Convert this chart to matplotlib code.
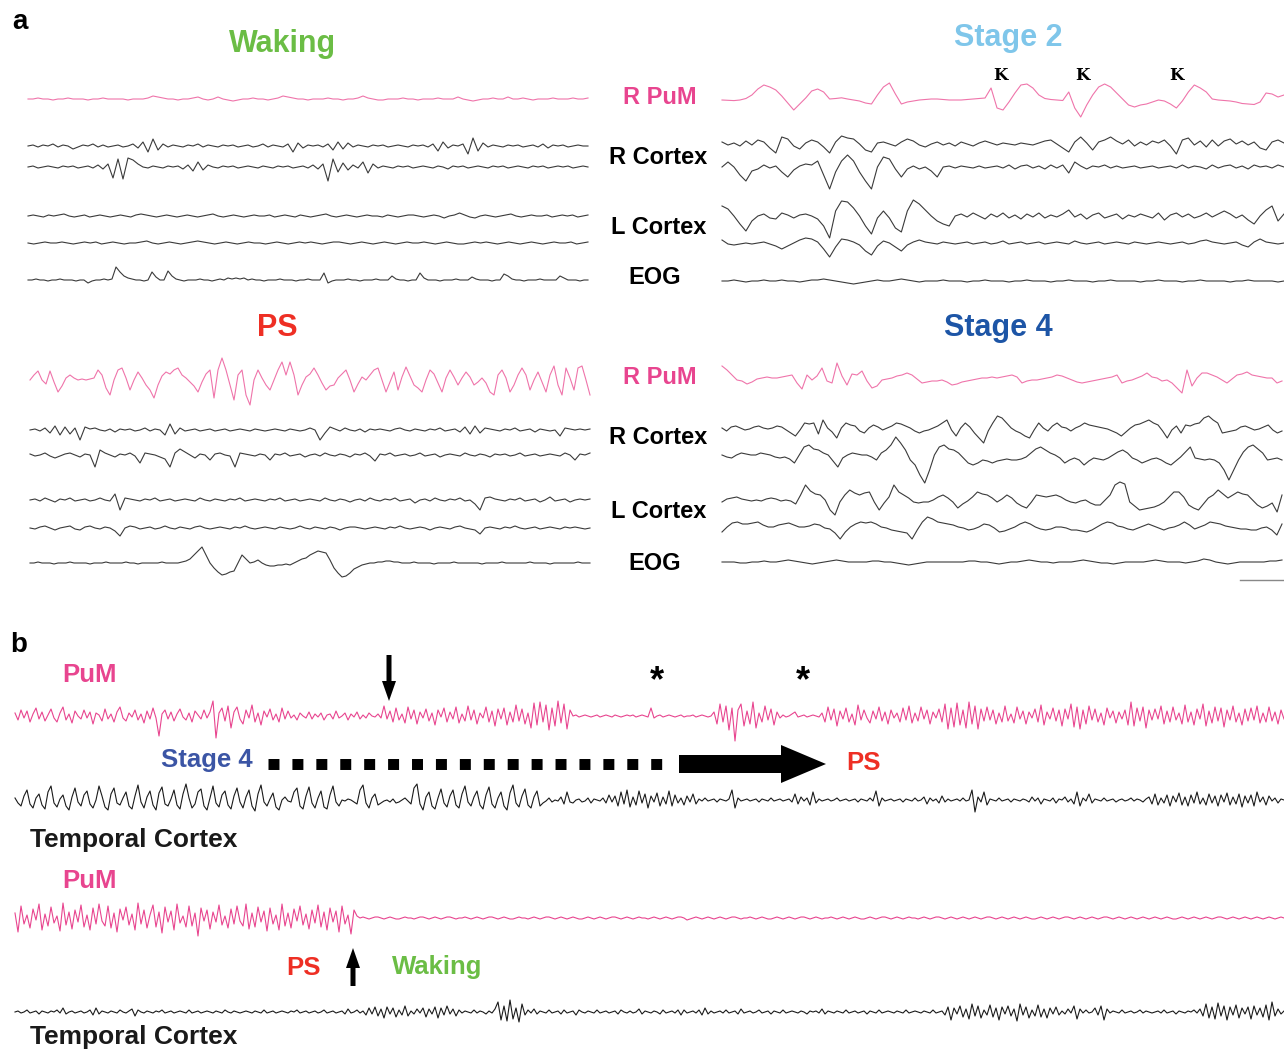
import matplotlib
matplotlib.use("Agg")
import matplotlib.pyplot as plt
import numpy as np
from matplotlib.patches import FancyArrow

plt.rcParams["font.family"] = ["Liberation Sans", "DejaVu Sans"]

PINK_A = "#ef74aa"
PINK_B = "#e8458f"
GREY = "#3a3a3a"
GREEN = "#6bbd45"
LIGHT_BLUE = "#7fc6ea"
DARK_BLUE = "#1d55a6"
RED = "#ee2f24"

# ---- panel a : Waking (values = deflection in px, up positive) ----
w_pum = [0, 0, 1, 0, 0, -1, 0, 0, 1, 0, 0, 0, -1, 0, 0, 1, 0, 0, 0, 0, -1, 0, 0, 0, 1,
         3, 2, 1, 0, 0, -1, 0, 0, 1, 2, 0, -1, 0, 2, 0, -1, -2, -1, 0,
         0, 1, 0, 0, -1, 0, 1, 3, 2, 1, 0, 0, -1, 0, 0, 0, 1, 0, 0, -1, 0, 0, 1,
         3, 1, 0, -1, -1, 0, 0, 0, 1, 0, 0, -1, 0, 0, 0, 1, 0, 0, 0,
         2, 0, -1, -2, -1, 0, 0, 1, 0, 0, 2, 0, 0, 1, 0, -1, 0, 0, 0, 1, 0, 0, 0, 1, 0, 0, 1]
w_rc1 = [0, 1, -1, 1, 0, 2, -1, 1, 0, -3, -1, 1, 0, 2, -1, 1, -1, 0, 1, -1,
         0, 2, -2, 4, -6, 7, -4, 2, -1, 1, 0, -1, 1, 0, 2, -1, 1, 0, -1, 1,
         0, 1, -1, 0, 1, -1, 0, 2, -1, 1, 0, -1, 2, -6, 3, -2, 1, 0, 1, -1,
         2, -4, 4, -3, 3, -1, 1, 0, -1, 1, 0, 1, -1, 0, 1, 0, -1, 1, 0, 1,
         -1, 2, -5, 4, -2, 1, 0, 2, -8, 8, -5, 3, -1, 1, 0, -1, 1, 0, 1, -1,
         0, 1, -1, 2, -2, 1, 0, 1, -1, 0, 1, 0, 0]
w_rc2 = [0, 1, -1, 0, 1, 0, -1, 1, 0, 1, -1, 0, 1, -1, 2, -2, 3, -11, 8, -12, 9, 7, 3, 0, -1, 1,
         0, -1, 1, 0, 1, -2, 2, -4, 5, -3, 2, 0, -1, 1, 0, 1, -1, 0, 1, 0, -1, 1, 0, -1,
         1, 0, 1, -1, 0, 1, -1, 2, -2, 3, -14, 8, -5, 4, -3, 2, -1, 5, -6, 3,
         -1, 1, 0, -1, 1, 0, 1, -1, 0, 1, 0, -1, 1, 0, -2, 1, 0, 1, -1, 0,
         1, 0, -1, 1, 0, 1, -1, 0, 1, 0, -1, 1, 0, 1, -1, 0, 1, 0, 1, -1, 0, 1, 0]
w_lc1 = [0, 1, 0, -1, 1, 0, 1, 2, 0, -1, 0, 1, -1, 0, 1, 0, -1, 0, 1, 0,
         -1, 1, 2, 1, 0, -1, 0, 1, 0, -1, 0, 1, 0, -1, 0, 1, 2, 0, -1, 0,
         1, 0, -1, 0, 1, 0, 0, 1, -1, 0, 1, 0, -1, 1, 0, -1, 0, 1, 2, 0,
         -1, 0, 1, 0, -1, 0, 1, 0, 0, -1, 1, 0, -1, 0, 1, 1, 0, -1, 0, 1,
         0, -2, 0, 1, 3, 1, -1, -2, 0, 1, 0, -1, 0, 1, 2, 0, -1, 0, 1, 0,
         0, 1, -1, 0, 1, 0, 1, -1, 0, 1]
w_lc2 = [0, -1, 0, 1, 0, 0, 1, 0, -1, 0, 1, 0, 1, -1, 0, 1, 0, -1, 0, 0,
         1, 2, 0, -1, 0, 1, 0, -1, 0, 1, 2, 1, 0, -1, 0, 1, 0, -1, 0, 1,
         0, 0, -1, 0, 1, 0, -1, 0, 1, 0, 1, 0, -1, 0, 1, 1, 0, -1, 0, 1,
         0, -1, 0, 1, 0, -1, 0, 1, 0, 0, 1, 0, -1, 0, 1, 0, -1, -1, 0, 1,
         0, 1, 0, -1, 0, 1, 0, -1, 0, 1, 0, -1, 0, 1, 0, 0, 1, -1, 0, 1]
w_eog = [0, 0, 1, 0, 0, -1, 0, 0, 1, 0, 0, 0, -1, 0, 0, -3, -1, 0, 0, 1, 0, 1,
         13, 8, 4, 2, 1, 0, 0, -1, 0, 8, 3, 0, 0, 9, 4, 1,
         0, -1, 0, 0, 0, 1, 0, 0, -1, 0, 1,
         0, 2, 1, 2, 1, 2, 0, 1, 0, 0, -1, 0, 0, 0, 1, 0, 0, 0, -1, 0, 0, 1, 0, 0, 0,
         7, -3, -1, 0, 0, 0, 1, 0, 0, -1, 0, 0, 0, 1, 0, 0, 0,
         4, 1, 0, 0, -1, 0, 0, 7, 2, 0, 0, 0, -1, 0, 0, 0, 1, 0, 0, 0,
         3, 1, 0, 0, 0, -1, 0, 0, 6, 4, 1, 0, 0, -1, 0, 0, 0, 1, 0, 0, 0, 0,
         4, 2, 0, 0, 0, -1, 0, 0]

# ---- panel a : Stage 2 ----
s2_pum = [0, -0.3, -0.6, 0, 1.5, 5, 11, 15, 13, 10, 4, -3, -10, -4, 2, 9, 11, 8, 1, 1.5,
          2.2, 1, 0, -1, -3, -4, 5, 13, 17, 6, -4, -2, -1, 0, 0.5, 1, 1, 0.5, 0, 0,
          0, 0.5, 1, 1.5, 2, 12, -8, -10, -2, 7, 15, 16, 12, 5, 1.5, 0.5, 0, -0.5, 8, -8,
          -17, -5, 5, 13, 16, 13, 7, 1, -5, -7, -5, -4, -2, 0, -1, -4, -8, -1, 8, 15,
          12, 8, 1, 0, -0.5, -1, -2, -3.5, -4, -4.5, -2, 7, 6, 3, 5]
s2_rc1 = [2, -1, 1, -2, 3, -1, 4, 2, -4, -9, 7, 5, -2, -5, 1, 4, 2, -3, -9, 2,
          8, 6, 5, 0, -6, -8, 1, 2, 0, -2, 2, 5, 3, -1, -3, 0, 2, -1, 1, -2,
          2, 0, -2, 1, 3, 1, -1, 1, 0, -1, 1, 0, -1, 1, 3, 4, 0, -4, -8, 2,
          7, 1, -6, 2, 4, 7, 3, 0, 4, -2, 2, -1, 3, 1, 4, -2, -10, 4, 6, -1,
          3, -3, 4, -2, 3, 5, 0, 3, -1, 2, -4, -6, 2, 4, 1]
s2_rc2 = [0, 5, 0, -8, -14, -4, -2, 2, -1, 1, -5, -10, -3, 1, 3, 2, 6, -8, -22, -5,
          6, 12, 6, -5, -14, -22, 0, 10, 8, -2, -10, -2, 1, -2, 0, -4, -10, 0, 1, -1,
          1, 0, -1, 1, -1, 0, 1, -1, 2, -2, 1, 2, -1, 1, -2, 2, -1, 2, -6, 5,
          1, -2, 1, 0, 2, -1, 1, -1, 0, 1, -1, 0, 1, -1, 0, 1, -1, 2, -1, 1,
          0, -2, 2, -1, 1, 2, -1, 1, -2, 2, 0, 1, -1, 2, 0]
s2_lc1 = [10, 7, 0, -8, -15, -5, 0, 2, -2, -3, 3, 1, -2, 1, 2, 0, -3, -10, -22, 5,
          15, 14, 8, 0, -10, -18, -2, 5, -2, -12, -16, 5, 16, 12, 6, 0, -5, -8, -10, 0,
          2, -1, 3, 0, -3, 2, -1, 3, -2, 1, -3, 2, -1, 3, -2, 1, -1, 2, 6, -1,
          2, -3, 1, 3, -2, 0, 2, -3, 1, -1, 2, 0, -2, 3, -4, 1, 3, -1, 2, -2,
          0, 3, -1, 2, 5, 2, -2, 1, -4, -8, 0, 6, 10, -5, 2]
s2_lc2 = [3, -1, -2, -1, 0, -1, 0, 1, -1, -3, -6, -3, 0, 3, 5, 4, 1, -6, -14, -4,
          4, 3, 1, -2, -8, -12, -3, 2, 0, -4, -8, -2, 1, 3, 1, 0, -1, 1, 0, -1,
          0, 1, -1, 0, 1, -1, 0, 2, -1, 0, 1, -1, 0, 1, -1, 0, 1, 0, -1, 2,
          0, -1, 0, 1, -1, 0, 1, 0, -1, 1, 0, -1, 0, 1, 0, -1, 0, 1, -1, 0,
          2, 3, 1, 0, -1, 0, 1, -2, -4, 1, 4, 1, 0, -1, 0]
s2_eog = [0, 0, 1, 0, -1, 0, 0, 1, 0, 0, 1, 0, 0, -1, 0, 1, 1, 2, 1, 0,
          -1, -2, -3, -2, -1, 0, 1, 0, 0, 1, 2, 1, 0, -1, 0, 0, 0, 1, 0, 0,
          0, -1, 0, 0, 1, 0, 0, 0, -1, 0, 0, 1, 0, 0, 0, -1, 0, 0, 1, 0,
          0, 0, -1, 0, 0, 1, 0, 0, 0, 0, -1, 0, 0, 1, 0, 0, 0, -1, 0, 0,
          1, 0, 0, 0, 0, -1, 0, 0, 1, 0, 0, 0, 0, -1, 0]

# ---- panel a : PS ----
ps_pum = [0, 5, 9, 0, -4, 9, -2, -12, -6, 2, 5, 2, 0, 1, 0, 1, 2, 10, 5, -8,
          -15, 0, 10, 12, 2, -10, 0, 8, 2, -5, -10, -18, -5, 4, 8, 6, 10, 12, 5, 2,
          -2, -6, -12, -2, 6, 10, -18, 10, 22, 10, -5, -20, 5, 10, -15, -25, 0, 10, 2, -5,
          -10, 0, 10, 18, 5, 18, 5, -15, -5, 3, 6, 12, 5, -3, -10, -6, -5, 2, 6, 10,
          0, -12, -4, 3, 0, 5, 10, 12, 0, -12, -2, 8, -10, 3, 13, 4, -5, -8, -12, 0,
          10, 6, -3, -12, 2, 10, 3, -5, 2, 8, 3, -5, -2, 2, -3, -12, -15, 5, 10, 2,
          -12, -5, 5, 12, 5, -10, 0, 8, -2, -12, 5, 14, -5, -15, 12, 2, -10, 12, 14, 0, -15]
ps_rc1 = [0, 1, -1, 2, -3, 4, -5, 3, -4, 2, -10, 3, 1, 2, 0, -1, 1, -2, 1, 0,
          1, -1, 0, 2, -1, 1, 0, -5, 6, -4, 2, -1, 0, 1, -1, 0, 1, -1, 0, 1,
          -1, 0, 1, 0, -1, 1, 0, -1, 0, 1, 0, -1, 1, 0, -1, 0, 2, 0, -10, -3,
          3, 1, -1, 2, 0, -1, 1, -2, 1, 0, 1, 0, -1, 1, 2, 0, -1, 1, 0, -1,
          1, 0, 2, -1, 0, 1, -2, 3, -4, 4, -3, 2, 1, 0, -1, 1, 0, 2, -1, 0,
          1, -2, 1, 0, -1, 0, -6, 2, 1, 0, 1, 0, 1]
ps_rc2 = [1, -1, 0, 2, -1, -3, -1, 1, 2, 0, -2, 1, 0, -12, 5, 2, 0, -2, 1, 0,
          2, -1, -8, 2, 1, 0, -2, -4, -12, 2, 6, 3, 0, -3, 1, 0, -5, 1, 2, 0,
          -1, -12, 2, 1, 0, -1, 1, 0, -5, 1, 0, 2, -1, 0, 1, -2, 0, 1, -1, 2,
          0, -1, 1, 0, -2, 1, 0, 2, -1, -6, 1, 0, 2, -1, 0, 1, -1, 0, 2, -1,
          0, 1, -2, 0, 1, 0, -1, 2, 0, -1, 1, 0, -2, 1, 0, 1, -1, 0, 2, -1,
          0, 1, -1, 0, 1, 0, -1, 2, 0, -5, 1, 0, 2]
ps_lc1 = [0, 1, -1, 2, 0, -2, 1, 0, 2, -1, 0, 1, -1, 0, 2, 0, -1, 6, -10, 2,
          1, 0, -1, 1, 0, 2, -1, 0, 1, -1, 0, 1, 0, -1, 2, 0, -1, 1, 0, -1,
          1, 0, 2, -1, 0, 1, 0, -1, 1, 0, 2, -1, 0, 1, -1, 0, 1, 0, -1, 2,
          0, -1, 1, 0, -2, 0, 1, -1, 2, 0, -1, 1, 0, 2, -1, 0, 1, -3, 0, 1,
          -1, 2, 0, -1, 1, 0, 2, -1, 0, -4, -10, 2, 3, 1, 0, -1, 1, 0, 2, -1,
          0, 1, -2, 0, 3, -1, 0, 1, -2, 0, 1, 0, 1]
ps_lc2 = [0, -1, 1, 2, 0, -2, 0, 1, 2, -1, -2, 1, 2, 0, -1, 1, 0, -3, -8, 0,
          2, 1, -1, 0, 1, -1, 0, 2, 0, -1, 1, 0, -1, 1, 2, 0, -1, 0, 1, 0,
          -1, 1, 0, 2, 0, -1, 0, 1, 0, -1, 1, 0, -1, 0, 2, 0, -1, 1, 0, -1,
          1, 0, -2, 0, 1, 1, 0, -1, 0, 1, 0, -1, 1, 0, 2, 0, -1, 0, 1, 0,
          -2, 0, 1, 0, -1, 1, 2, 0, -1, -2, -6, 0, 1, 0, -1, 1, 0, 2, 0, -1,
          0, 1, -1, 0, 1, 0, -1, 1, 0, 1, 0, -1, 0]
ps_eog = [0, 0, 1, 0, 0, 0, -1, 0, 0, 0, 1, 0, 0, 0, 0, -1, 0, 0, 0, 1,
          0, 0, 0, 0, 1, 0, 0, -1, 0, 0, 0, 0, 0, 1, 0, 0, 0, 0, 1,
          2, 4, 8, 12, 16, 8, 0, -5, -9, -12, -11, -9, -8, 0, 8, 4, 0, 1, 3, 0, -2,
          -3, -3, -2, -2, -1, -2, 0, 2, 4, 5, 8, 10, 12, 11, 10, 3, -5, -10, -14, -13,
          -10, -6, -4, -2, -1, 0, 0, 1, 1, 2, 2,
          1, 1, 0, 0, 0, 1, 0, 0, 0, 0, -1, 0, 0, 0, 0, 1, 0, 0, 0, 0,
          0, 0, -1, 0, 0, 0, 0, 1, 0, 0, 0, 0, 0, 0, 1, 0, 0, 0, 0, -1,
          0, 0, 0, 0, 0, 0, 1, 0, 0, 0]

# ---- panel a : Stage 4 ----
s4_pum = [12, 8, 3, -2, -3, -6, -4, -1, 0, 1, 0, 0, 1, 2, 3, -5, -11, 3, -2, 2,
          10, -3, -5, 15, 2, -7, 4, 3, 7, -3, -10, -8, -2, -1, 0, 2, 3, 5, 3, -1,
          -5, -4, -3, -3, -2, -4, -7, -6, -4, -3, -2, -1, 0, 0, 1, 0, 1, 2, 3, 1,
          -5, -3, -2, -2, -1, 0, 1, 3, 2, 0, -2, -4, -5, -4, -3, -2, -1, 0, 1, 3,
          -5, -3, -2, 0, 2, 5, 1, 0, -3, -2, -5, -10, -15, 8, -8, 0, 5, 5, 3, 1,
          -2, -5, -1, 3, 4, 6, 3, 2, 1, 0, 0, -5, -3]
s4_rc1 = [0, -3, 1, 2, 0, -2, -1, 1, 2, 0, -1, 0, 2, 1, -2, -5, -8, -2, 5, 4,
          5, -6, 8, 0, -4, -10, 0, 5, 3, 2, -3, -5, 0, 3, 1, -2, 0, 2, 5, 4,
          2, 0, -3, -5, -3, -2, 0, 2, 5, 8, -2, -8, 0, 5, 1, -5, -10, -15, -3, 5,
          12, 10, 5, 0, -3, -5, -8, -10, -2, 5, 0, -3, 2, 5, 1, 0, -3, 0, 2, 5,
          3, 2, 1, 0, -1, -3, -5, -8, -4, 0, 3, 4, 6, 8, 5, 3, -3, -10, -2, 2,
          -5, 3, 2, 4, 5, 10, 12, 8, 5, -5, -4, -3, -2, 1, 2, 0, -2, -1, 1, 3,
          -2, -5, -3]
s4_rc2 = [0, -2, -3, 0, 2, 1, 0, 0, 2, 1, 0, -2, -3, -2, -4, -8, 0, 8, 10, 6,
          5, 2, 0, -6, -12, -3, 0, 2, 1, 0, 0, -2, -5, 2, 5, 10, 18, 12, 5, -5,
          -10, -20, -28, -15, 0, 8, 10, 6, 5, 2, -3, -8, -10, -8, -5, -6, -8, -6, -5, -4,
          -5, -5, -4, -2, 2, 6, 8, 5, 2, 0, -3, -8, -5, -3, -5, -10, -6, -3, -4, -5,
          -3, 0, 3, 5, 2, -3, -5, -8, -6, -4, -3, -5, -8, -10, -6, -2, 3, 8, -3, -4,
          -5, -4, -5, -8, -15, -25, -15, -5, 3, 8, 10, 6, 2, -5, -4, -3, -5]
s4_lc1 = [-2, 1, 2, 3, 1, 0, -1, 0, -1, 1, 2, 1, -1, 0, -1, -4, 5, 15, 9, 6,
          5, 0, -10, -15, -2, 5, 10, 7, 5, 7, 8, -2, -10, -3, 3, 15, 8, 5, 2, -2,
          -3, -2, -2, 0, 3, 5, 2, -2, -8, -4, -1, 3, 8, 6, 5, 2, -2, 1, 5, 2,
          -3, -6, -8, -2, 5, 4, 3, 4, 5, 3, 0, -2, -3, -1, 0, -3, -5, -5, 0, 5,
          15, 18, 16, -2, -6, -10, -9, -8, -7, -5, -2, 3, 8, 8, 3, -5, -8, -10, -4, 2,
          5, 10, 6, 2, 5, 8, 6, 5, 0, -5, -8, -6, -3, -12, 5]
s4_lc2 = [-5, 0, 4, 5, 3, 3, 4, 5, 2, 0, 0, 2, 3, 4, 2, 0, 0, 1, 3, 2,
          -1, -2, -6, -12, -5, 0, 3, 5, 4, 5, 3, 0, -1, -3, -4, -5, -6, -12, -3, 5,
          10, 8, 5, 4, 3, 2, 0, -1, -3, -2, 0, 3, 2, -1, -5, -4, -2, 0, 3, 5,
          3, 0, -2, -3, -2, 0, 0, -1, -3, -3, -4, -5, -3, 0, 3, 5, 4, 1, 0, -2,
          -3, -1, 1, 3, 1, -1, -3, -1, 0, 2, 5, 2, -2, 0, 2, 5, 4, 3, 1, 0,
          -1, -2, -2, -3, -3, -1, 0, -3, -8, 3]
s4_eog = [0, 0, 0, -1, -1, 0, 0, 1, 0, 0, 1, 2, 1, 0, -1, -2, -1, 0, 1, 2,
          1, 0, 0, 0, 0, 1, 1, 0, 0, -1, -2, -3, -2, -1, 0, 0, 0, 0, 0, 0,
          0, 1, 1, 0, 0, -1, -2, -1, 0, 0, 1, 2, 1, 0, 0, -1, 0, 0, 0, 1,
          2, 1, 0, -1, -1, -2, -1, 0, 0, 0, 0, 1, 2, 1, 0, 0, 0, -1, 0, 1,
          3, 2, 0, -1, -2, -1, 0, 0, 0, 0, 0, 1, 1, 2]

# ---- panel b ----
b_pum1 = [3, -4, 6, -2, 5, -6, 2, 8, -3, 4, -5, 1, 7, -2, -6, 3, 9, -4, 2, -7, 5, 0, -3, 6,
          -2, 4, -8, 3, 1, -5, 7, -3, 2, -6, 4, 9, -2, -5, 3, -1, 6, -4, 2, -7, 5, -3, 8, -2,
          -20, 2,
          6, -3, 4, -5, 2, 7, -1, -4, 3, -6, 5, 1, -3, 6, -2, 4,
          15, -22, 3,
          8, -5, 10, -12, 4, 9, -3, -8, 6, -2, 11, -6, 3, -9, 5, -1, 7, -4, 2, -6, 8, -3, 5, -2, 1, -4,
          3, 0, -2, 4, -3, 2, -1, 3, -4, 1, 2, -3, 5, -2, 0, 3, -4, 2, -1, 4, -3, 1, -2, 3, 0, -1,
          2, -2, 10,
          -3, 5, -6, 8, -4, 2, -7, 9, -3, 6, -8, 4, -2, 7, -5, 3, -9, 6, -1, 8, -6, 4, -3, 9,
          -7, 2, -5, 10, -4, 6, -8, 3, -2, 9, -6, 5, -10, 7, -3, 8, -9, 4, -6, 11, -5, 7, -8, 3,
          -12, 13, -9, 14, -6, 11, -14, 8, -10, 15, -7, 12, -13, 6,
          0, 1, -1, 0, 1, 0, -1, 0, 1, -1, 0, 1, 0, -1, 1, 0, -1, 0, 1, 0, 1, -1, 0, 1,
          0, -1, 8, -2, 0, 1, -1, 0, 1, 0, -1, 0, 1, -1, 0, 0, 1, -1, 0, 1, 0, -1, 0,
          4, -8, 12, -6, 10, -14, 8, -25, 6, 12, -10, 5, -8, 14, -12, 3, -6, 10, -4, 7, -9, 4, -2,
          1, -1, 0, 2, 4, -1, 0, 1, -1, 0, 1, 0, -1,
          3, -6, 9, -4, 7, -10, 5, -3, 8, -6, 2, -9, 11, -4, 6, -2, -7, 5, -3, 9,
          -5, 4, -8, 6, -2, 3, -6, 8, -4, 10, -7, 3, -5, 9, -3, 6, -8, 4, -2, 7,
          -6, 12, -13, 8, -11, 13, -9, 6, -12, 14, -8, 10, -13, 7, -5, 9, -4, 6, -8, 3,
          -6, 10, -5, 2, -7, 9, -3, 5, -8, 4, -2, 7, -6, 11, -9, 4, -3, 8, -5, 6,
          -10, 7, -3, 12, -11, 9, -13, 6, -8, 10, -4, 7, -6, 3, -9, 8, -2, 5, -7, 4,
          -3, 6, -9, 14, -10, 8, -5, 9, -12, 6, -4, 7, -3, 10, -8, 5, -6, 9, -4, 3,
          -8, 11, -6, 4, -9, 7, -3, 12, -10, 5, -7, 9, -5, 8, -11, 6, -4, 10, -6, 3,
          -9, 7, -5, 8, -4, 10, -7, 3, -6, 9, -5, 4, -8, 6, -3]
b_tc1 = [2, -3, -6, 4, 10, -4, -8, 2, 6, -5, -9, 8, 14, -3, -7, 1, 5, -6, -10, 3,
         12, -2, -6, 5, 9, -4, -8, 0, 14, 4, -7, -10, 6, 12, -3, -5, 2, 8, -6, -9,
         4, 15, -2, -8, 3, 9, -5, -10, 7, 13, -4, -6, 1, 10, -5, -9, 6, 16, 2, -8,
         -4, 8, 11, -6, -10, 2, 14, -3, -7, 5, 9, -5, -9, 4, 12, -2, -8, 3, 10, -6,
         -11, 6, 15, -2, -6, 1, 7, -7, -10, 0, 3, -1, -2, 8, 12, -6, -9, 4, 13, -3,
         -8, 2, 9, -7, -9, 5, 14, -2, -6, 0, -1, 1, 0, -2, -4, 10, 15, -3, -8, 2,
         6, -5, -3, -1, 0, -2, 1, -3, -2, 0, 2, -1, -4, 12, 16, -4, -10, 3, 8, -6,
         -9, 2, 11, -3, -7, 4, 10, -5, -8, 6, 14, -2, -6, 3, 9, -5, -9, 5, 13, -4,
         -8, 2, 8, -6, -10, 7, 15, -3, -7, 4, 11, -5, -8, 3, 9, -6, -3, -1, 2, -2,
         0, -1, 3, -4, 8, -2, -3, 0, 1, -2, -1, 2, -3, 1, 0, -1,
         2, -3, 5, -2, 4, -6, 8, -4, 10, -7, 3, -5, 9, -3, 6, -8, 4, -2, 7, -6,
         3, -4, 9, -6, 5, -3, 2, -5, 4, -2, 6, -4, 1, -1, 2, -1, 0, 1, -2, 1,
         0, -1, 1, 10, -8, 2, -1, 0, 1, -1, 0, 1, -2, 1, 0, -1, 2, -1, 0, 1,
         -1, 0, 1, -2, 6, -4, 3, -1, 2, -5, 8, -3, 1, -1, 0, 1, -1, 0, 2, -1,
         0, 1, -1, 0, 1, -2, 1, 0, -1, 2, -1, 9, -6, 2, -1, 0, 1, -1, 0, 1,
         -2, 1, 0, -1, 2, -1, 0, 3, -4, 2, -1, 1, -3, 4, -2, 1, -1, 0, 1, -1,
         2, -1, 0, 10, -12, 3, -2, 8, -5, 1, 0, -1, 2, -1, 0, 1, -2, 1, 0, -1,
         1, 0, -2, 3, -1, 2, -4, 1, 0, -1, 2, -3, 1, 0, 3, -2, 1, -4, 8, -6,
         2, -1, 6, -3, 1, 0, -1, 2, -1, 0, 1, -2, 0, 1, -1, 0, 2, -1, 1, 0,
         -2, 1, 3, -4, 6, -5, 2, -3, 5, -6, 4, -2, 7, -5, 3, -6, 5, -3, 8, -4,
         2, -5, 6, -3, 4, -6, 5, -2, 7, -5, 3, -4, 6, -7, 4, -3, 5, -6, 8, -2,
         3, -5, 4, -1, 2, -3, 1, 0]
b_pum2 = [5, -14, 12, -6, 3, -10, 9, -2, 14, -12, 4, -8, 11, -5, 2, -13, 15, -7, 6, -11,
          8, -4, 13, -9, 3, -12, 10, -6, 14, -3, -8, 12, -10, 5, -14, 9, -2, 11, -7, 4,
          -12, 15, -6, 8, -10, 3, 13, -9, 6, -15, 11, -4, 7, -12, 14, -5, 2, -9, 12, -8,
          5, -18, 10, -3, 8, -11, 6, -4, 13, -7, 2, -10, 9, -6, 12, -3, -8, 14, -11, 5,
          -9, 11, -4, 7, -13, 10, -6, 3, -12, 14, -8, 5, -10, 9, -3, 12, -7, 4, -11, 8,
          -5, 13, -9, 6, -12, 10, -4, 7, -14, 12, -6, 3, -16, 8, 2,
          0, 1, 0, -1, 0, 1, 1, 0, -1, 0, 1, 0, -1, -1, 0, 1, 0, 0, -1, 0,
          1, 1, 0, -1, 0, 1, 0, -1, 0, 1, 1, 0, -1, 0, 0, 1, 0, -1, 0, 1,
          0, -1, 0, 1, 1, 0, -1, 0, 1, 0, -1, -1, 0, 1, 0, 0, -1, 0, 1, 0,
          -1, 0, 1, 1, 0, -1, 0, 1, 0, -1, 0, 1, 0, -1, -1, 0, 1, 0, -1, 0,
          1, 0, -1, 0, 1, 1, 0, -1, 0, 1, 0, -1, 0, 1, 0, 0, -1, 0, 1, 0,
          -1, 0, 1, 0, -1, 0, 1, 1, 0, -2, -1, 0, 1, 0, -1, 0, 1, 0, -1, 0,
          1, 0, -1, 0, 1, 1, 0, -1, 0, 0, 1, 0, -1, 0, 1, 0, -1, -1, 0, 1,
          0, -1, 0, 1, 0, -1, 0, 1, 1, 0, -1, 0, 1, 0, -1, 0, 0, 1, 0, -1,
          0, 1, 0, -1, 0, 1, 0, -1, -1, 0, 1, 0, -1, 0, 1, 1, 0, -1, 0, 1,
          0, -1, 0, 1, 0, 0, -1, 0, 1, 0, -1, 0, 1, 1, 0, -1, 0, 1, 0, -1,
          0, 1, 0, -1, 0, 1, 0, -1, 0, 1, 1, 0, -1, 0, 1, 0, -1, 0, 1, 0,
          -1, 0, 1, 0, -1, -1, 0, 1, 0, -1, 0, 1, 0, -1, 0, 1, 1, 0, -1, 0,
          1, 0, -1, 0, 1, 0, -1, 0, 1, 1, 0, -1, 0, 1, 0, -1, 0, 1, 0, -1,
          0, 1, 0, -1, 0, 1, 0, -1, 0, 1, 0, -1, -1, 0, 1, 0, -1, 0, 1, 0,
          -1, 0, 1, 0, -1, 0, 1, 1, 0, -1, 0, 1, 0, -1, 0, 1, 0, -1, 0, 1,
          0, -1, 0, 1, 0, -1, 0, 1, 0]
b_tc2 = [0, 1, -1, 0, 2, -1, 0, 1, -2, 1, 0, -1, 1, 0, 2, -1, 4, -2, 0, 1,
         -1, 0, 1, -1, 0, 2, -3, 4, -2, 1, 0, -1, 1, 0, -1, 2, 0, -1, 1, 3,
         -4, 2, 0, -1, 1, 0, -1, 1, 0, 2, -1, 0, 1, -1, 0, 1, 0, -1, 2, -1,
         0, 1, -1, 0, 1, 0, -1, 1, 0, -1, 2, 0, -1, 1, 0, -1, 0, 1, 0, -1,
         1, 0, -1, 2, -1, 0, 1, -1, 0, 1, 0, -1, 1, 0, 2, -1, 0, 1, -1, 0,
         1, -1, 0, 2, -1, 0, 1, -1, 0, 1, -2, 3, -1, 0, 2, -1, 1, -3, 4, -2,
         5, -4, 3, -6, 5, -2, 4, -5, 2, -3, 6, -4, 1, -2, 3, -1, 4, -5, 3, -2,
         5, -6, 4, -3, 6, -2, 3, -4, 2, -1, 1, 0, -1, 2, -1, 1, 0, -2, 1, -1,
         3, 10, -8, 6, -9, 12, -7, 4, -10, 8, -3, 2, -1, 3, -2, 1, 0, -1, 2, -1,
         0, 1, -2, 2, -1, 0, 1, -3, 2, 0, -1, 1, 0, -1, 2, -1, 0, 1, -1, 0,
         1, -2, 2, 0, -1, 1, -1, 0, 3, -2, 1, 0, -1, 1, 0, -2, 2, -1, 0, 1,
         -1, 2, -3, 2, -1, 0, 1, -1, 2, -3, 4, -2, 1, -1, 0, 1, -1, 2, -1, 0,
         1, -2, 3, -1, 0, 1, -1, 0, 2, -1, 0, 1, -2, 1, 0, -1, 2, -1, 0, 1,
         0, -1, 1, 0, -2, 1, 0, 1, -1, 3, -2, 1, 0, -1, 1, 0, -1, 2, -1, 0,
         1, -1, 0, 1, -2, 1, 0, -1, 2, -1, 0, 1, 0, -1, 1, 0, -1, 2, -1, 0,
         1, 0, -1, 1, 0, -1, 2, -1, 0, 1, -3, 5, -8, 4, -2, 6, -5, 3, -7, 8,
         -4, 6, -6, 2, -3, 7, -5, 4, -8, 5, -2, 6, -4, 3, -9, 8, -3, 5, -6, 2,
         -4, 7, -5, 3, -6, 4, -2, 5, -3, 1, -2, 3, -1, 6, -7, 3, -1, 2, -1, 0,
         4, -3, 6, -8, 3, -1, 1, 0, -1, 2, -1, 0, 1, -1, 0, 2, -1, 1, 0, -1,
         0, 1, -1, 2, -1, 0, 1, -2, 1, 0, -1, 1, 0, 2, -1, 3, -4, 8, -6, 5,
         -7, 9, -4, 6, -8, 5, -3, 7, -6, 4, -2, 5, -7, 6, -3, 4, -5, 7, -8, 10,
         -4, 3, -2, 1]

fig = plt.figure(figsize=(12.84, 10.5), dpi=100)
ax = fig.add_axes([0, 0, 1, 1])
ax.set_xlim(0, 1284)
ax.set_ylim(1050, 0)
ax.axis("off")


def trace(vals, x0, x1, y0, color, lw=0.8):
    v = np.asarray(vals, dtype=float)
    x = np.linspace(x0, x1, len(v))
    ax.plot(x, y0 - v, color=color, lw=lw, solid_joinstyle="round")


# panel a traces
for vals, y0, col in [(w_pum, 99, PINK_A), (w_rc1, 146, GREY), (w_rc2, 167, GREY),
                      (w_lc1, 216, GREY), (w_lc2, 243, GREY), (w_eog, 280, GREY)]:
    trace(vals, 28, 588, y0, col)
for vals, y0, col in [(s2_pum, 100, PINK_A), (s2_rc1, 144, GREY), (s2_rc2, 167, GREY),
                      (s2_lc1, 216, GREY), (s2_lc2, 243, GREY), (s2_eog, 281, GREY)]:
    trace(vals, 722, 1284, y0, col)
for vals, y0, col in [(ps_pum, 380, PINK_A), (ps_rc1, 430, GREY), (ps_rc2, 455, GREY),
                      (ps_lc1, 500, GREY), (ps_lc2, 528, GREY), (ps_eog, 563, GREY)]:
    trace(vals, 30, 590, y0, col)
for vals, y0, col in [(s4_pum, 378, PINK_A), (s4_rc1, 428, GREY), (s4_rc2, 455, GREY),
                      (s4_lc1, 500, GREY), (s4_lc2, 527, GREY), (s4_eog, 562, GREY)]:
    trace(vals, 722, 1282, y0, col)

# panel b traces
trace(b_pum1, 15, 1284, 716, PINK_B)
trace(b_tc1, 15, 1284, 800, "#1a1a1a")
trace(b_pum2, 15, 1284, 918, PINK_B)
trace(b_tc2, 15, 1284, 1012, "#1a1a1a")

# scale bar
ax.plot([1240, 1284], [580, 580], color="#888888", lw=1.0)

# panel letters
ax.text(12, 22, "a", fontsize=20, fontweight="bold", va="center", ha="left")
ax.text(10, 645, "b", fontsize=20, fontweight="bold", va="center", ha="left")

# panel a titles
ax.text(283, 44, "Waking", color=GREEN, fontsize=22, fontweight="bold", ha="center", va="center")
ax.text(1008, 38, "Stage 2", color=LIGHT_BLUE, fontsize=22, fontweight="bold", ha="center", va="center")
ax.text(277, 328, "PS", color=RED, fontsize=22, fontweight="bold", ha="center", va="center")
ax.text(998, 328, "Stage 4", color=DARK_BLUE, fontsize=22, fontweight="bold", ha="center", va="center")

# channel labels
for y_top, y_rc, y_lc, y_eog in [(97, 157, 228, 277), (378, 437, 511, 563)]:
    ax.text(660, y_top, "R PuM", color=PINK_B, fontsize=17, fontweight="bold", ha="center", va="center")
    ax.text(658, y_rc, "R Cortex", color="black", fontsize=17, fontweight="bold", ha="center", va="center")
    ax.text(659, y_lc, "L Cortex", color="black", fontsize=17, fontweight="bold", ha="center", va="center")
    ax.text(655, y_eog, "EOG", color="black", fontsize=17, fontweight="bold", ha="center", va="center")

for kx in [1000, 1082, 1176]:
    ax.text(kx, 76, "K", fontsize=12, fontweight="bold", family="DejaVu Serif",
            ha="center", va="center")

# panel b annotations
ax.text(89, 675, "PuM", color=PINK_B, fontsize=18.5, fontweight="bold", ha="center", va="center")
ax.text(89, 881, "PuM", color=PINK_B, fontsize=18.5, fontweight="bold", ha="center", va="center")
ax.text(30, 840, "Temporal Cortex", color="#1a1a1a", fontsize=19, fontweight="bold", ha="left", va="center")
ax.text(30, 1037, "Temporal Cortex", color="#1a1a1a", fontsize=19, fontweight="bold", ha="left", va="center")
ax.text(207, 760, "Stage 4", color="#3b55a5", fontsize=18.5, fontweight="bold", ha="center", va="center")
ax.text(864, 763, "PS", color=RED, fontsize=18.5, fontweight="bold", ha="center", va="center")
ax.text(304, 968, "PS", color=RED, fontsize=18.5, fontweight="bold", ha="center", va="center")
ax.text(437, 967, "Waking", color=GREEN, fontsize=18.5, fontweight="bold", ha="center", va="center")
for sx in [657, 803]:
    ax.text(sx, 682, "*", fontsize=26, fontweight="bold", ha="center", va="center")

# dotted transition line and arrow
ax.plot([268, 665], [764, 764], color="black", lw=7.9, linestyle=(0, (1.0, 1.18)),
        dash_capstyle="butt")
ax.add_patch(FancyArrow(679, 764, 147, 0, width=18, head_width=38, head_length=45,
                        length_includes_head=True, color="black", lw=0))
ax.add_patch(FancyArrow(389, 655, 0, 46, width=5, head_width=14, head_length=20,
                        length_includes_head=True, color="black", lw=0))
ax.add_patch(FancyArrow(353, 986, 0, -38, width=5, head_width=14, head_length=20,
                        length_includes_head=True, color="black", lw=0))

fig.savefig("out.png", dpi=100)
